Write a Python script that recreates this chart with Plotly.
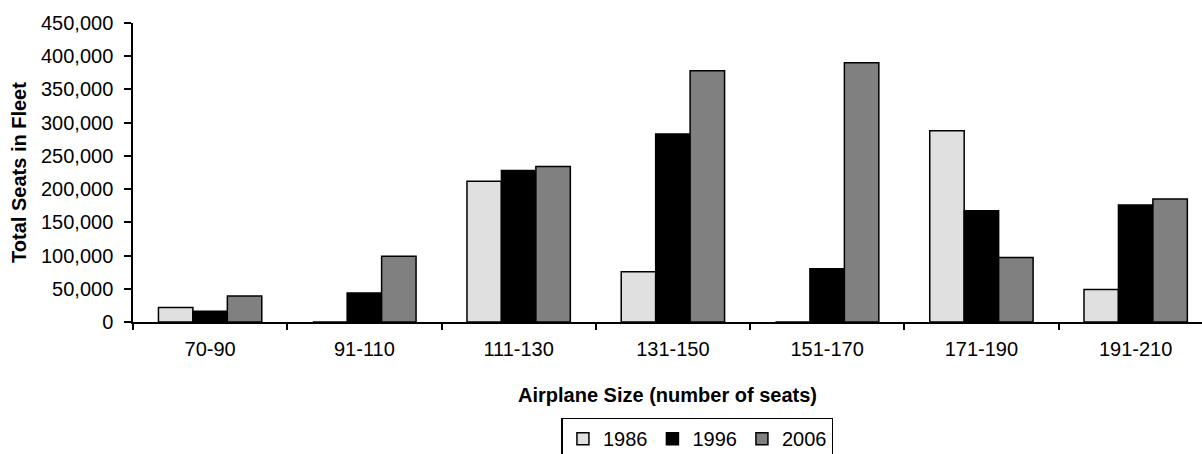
import plotly.graph_objects as go

categories = ["70-90", "91-110", "111-130", "131-150", "151-170", "171-190", "191-210"]
seats_1986 = [22000, 0, 212000, 75500, 0, 288000, 49000]
seats_1996 = [16000, 43500, 228000, 283000, 80000, 167500, 176000]
seats_2006 = [39000, 99000, 234000, 378000, 390000, 97000, 185000]
y_ticks = [0, 50000, 100000, 150000, 200000, 250000, 300000, 350000, 400000, 450000]

series = [
    ("1986", seats_1986, "#E0E0E0"),
    ("1996", seats_1996, "#000000"),
    ("2006", seats_2006, "#808080"),
]

FONT = "Liberation Sans, Arial, sans-serif"

fig = go.Figure()
for name, vals, col in series:
    fig.add_trace(go.Bar(
        name=name, x=categories, y=vals,
        marker=dict(color=col, line=dict(color="#000000", width=1.5)),
    ))

fig.update_layout(
    width=1202, height=454,
    margin=dict(l=133, r=0, t=23, b=132, autoexpand=False),
    paper_bgcolor="white", plot_bgcolor="white",
    barmode="group", bargap=0.33, bargroupgap=0,
    font=dict(family=FONT, size=20, color="#000000"),
    showlegend=True,
    legend=dict(
        orientation="h", x=0.528, xanchor="center", y=-0.32, yanchor="top",
        bordercolor="#000000", borderwidth=1.5, bgcolor="white",
        font=dict(family=FONT, size=20, color="#000000"),
        traceorder="normal", itemwidth=30,
    ),
    xaxis=dict(
        type="category",
        range=[-0.5, 6.43],
        showline=True, linecolor="#000000", linewidth=1.5,
        ticks="outside", tickson="boundaries", ticklen=6, tickwidth=1.5, tickcolor="#000000",
        showgrid=False, zeroline=False, automargin=False,
        tickfont=dict(family=FONT, size=20), ticklabelstandoff=8,
        title=dict(text="<b>Airplane Size (number of seats)</b>",
                   font=dict(family=FONT, size=20), standoff=29),
    ),
    yaxis=dict(
        range=[0, 450000],
        tickvals=y_ticks, tickformat=",d",
        showline=True, linecolor="#000000", linewidth=1.5,
        ticks="outside", ticklen=7, tickwidth=1.5, tickcolor="#000000",
        showgrid=False, zeroline=False, automargin=False,
        tickfont=dict(family=FONT, size=20), ticklabelstandoff=7,
        title=dict(text="<b>Total Seats in Fleet</b>",
                   font=dict(family=FONT, size=20), standoff=9),
    ),
)

fig.write_html("out.html")
